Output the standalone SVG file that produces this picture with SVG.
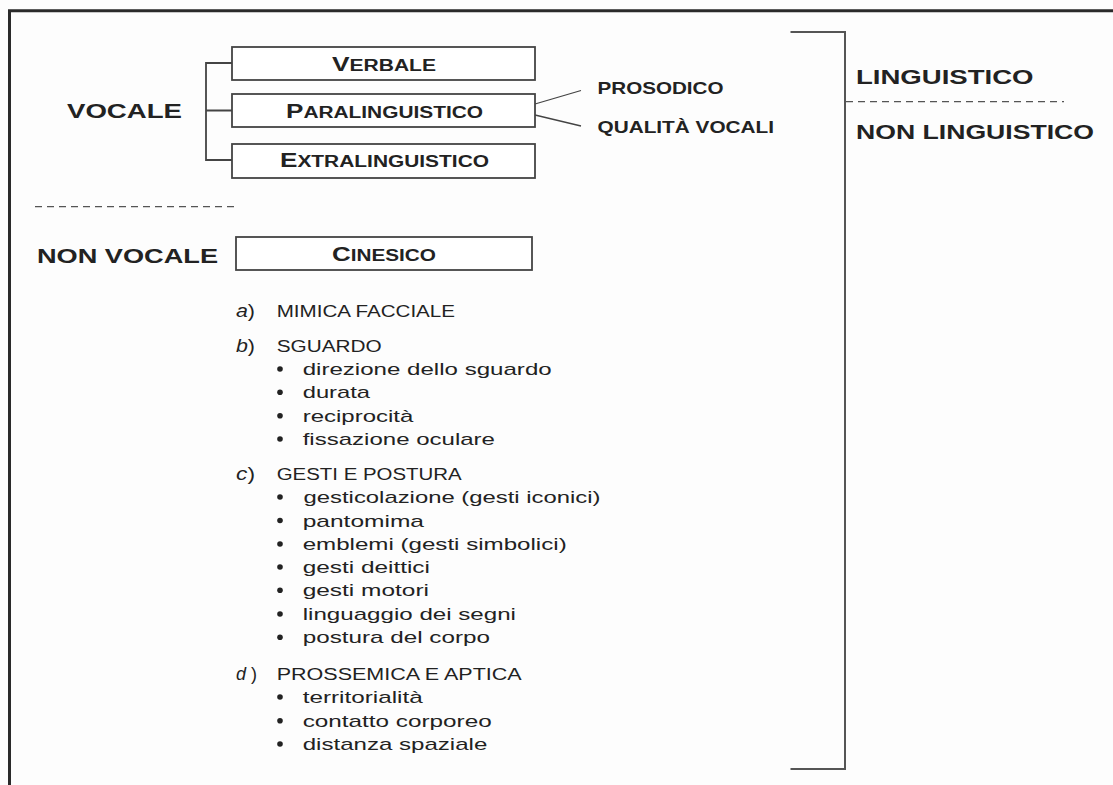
<svg xmlns="http://www.w3.org/2000/svg" width="1113" height="785" viewBox="0 0 1113 785">
<style>
text{font-family:"Liberation Sans",Arial,sans-serif;fill:#222}
.lab{font-size:21px;font-weight:bold}
.box{fill:#fff;stroke:#444;stroke-width:1.8}
.bt{font-size:16px;font-weight:bold}
.bt tspan.c{font-size:20px}
.sub{font-size:16.5px;font-weight:bold}
.li{font-size:17px}
.lt{font-size:18px}
.hd{font-size:16px}
.ln{fill:none;stroke:#444;stroke-width:1.8}
.dash{fill:none;stroke:#555;stroke-width:1.3;stroke-dasharray:7 5}
.bul{fill:#222}
</style>
<rect width="1113" height="785" fill="#fdfdfd"/>
<g id="connectors">
  <path d="M9.5 785 V10.8 H1113" fill="none" stroke="#2a2a2a" stroke-width="3"/>
  <path class="ln" d="M234 63 H206 V160 H232 M206 110.5 H232"/>
  <path fill="none" stroke="#444" stroke-width="1.3" d="M535 104 L581 90.5 M535 115 L581 126"/>
  <path fill="none" stroke="#555" stroke-width="2" d="M790.5 32 H845 V769 H790.5"/>
  <line class="dash" x1="35" y1="206.7" x2="238" y2="206.7"/>
  <line class="dash" x1="846" y1="101.7" x2="1064" y2="101.7"/>
</g>
<g id="vocale"><text class="lab" x="67" y="118" textLength="115" lengthAdjust="spacingAndGlyphs">VOCALE</text></g>
<g id="non-vocale"><text class="lab" x="37" y="262.5" textLength="181" lengthAdjust="spacingAndGlyphs">NON VOCALE</text></g>
<g id="verbale">
  <rect class="box" x="232" y="47" width="303" height="33"/>
  <text class="bt" x="332" y="71" textLength="104" lengthAdjust="spacingAndGlyphs"><tspan class="c">V</tspan>ERBALE</text>
</g>
<g id="paralinguistico">
  <rect class="box" x="232" y="94" width="303" height="33"/>
  <text class="bt" x="286" y="118" textLength="197" lengthAdjust="spacingAndGlyphs"><tspan class="c">P</tspan>ARALINGUISTICO</text>
</g>
<g id="extralinguistico">
  <rect class="box" x="232" y="144" width="303" height="34"/>
  <text class="bt" x="280" y="167" textLength="209" lengthAdjust="spacingAndGlyphs"><tspan class="c">E</tspan>XTRALINGUISTICO</text>
</g>
<g id="cinesico">
  <rect class="box" x="236" y="237" width="296" height="33"/>
  <text class="bt" x="332" y="261" textLength="104" lengthAdjust="spacingAndGlyphs"><tspan class="c">C</tspan>INESICO</text>
</g>
<g id="prosodico"><text class="sub" x="597.5" y="94.3" textLength="126" lengthAdjust="spacingAndGlyphs">PROSODICO</text></g>
<g id="qualita-vocali"><text class="sub" x="597.5" y="133" textLength="176.5" lengthAdjust="spacingAndGlyphs">QUALITÀ VOCALI</text></g>
<g id="linguistico"><text class="lab" x="856" y="84" textLength="177.5" lengthAdjust="spacingAndGlyphs">LINGUISTICO</text></g>
<g id="non-linguistico"><text class="lab" x="856" y="139" textLength="238" lengthAdjust="spacingAndGlyphs">NON LINGUISTICO</text></g>
<g id="cinesico-list">
  <text class="lt" x="236" y="316.7" textLength="19" lengthAdjust="spacingAndGlyphs"><tspan font-style="italic">a</tspan>)</text>
  <text class="hd" x="276.7" y="316.7" textLength="178.3" lengthAdjust="spacingAndGlyphs">MIMICA FACCIALE</text>
  <text class="lt" x="236" y="351.7" textLength="19" lengthAdjust="spacingAndGlyphs"><tspan font-style="italic">b</tspan>)</text>
  <text class="hd" x="276.7" y="351.7" textLength="105" lengthAdjust="spacingAndGlyphs">SGUARDO</text>
  <circle class="bul" cx="280" cy="369" r="2.8"/>
  <text class="li" x="302.7" y="375" textLength="249" lengthAdjust="spacingAndGlyphs">direzione dello sguardo</text>
  <circle class="bul" cx="280" cy="392.3" r="2.8"/>
  <text class="li" x="302.7" y="398.3" textLength="67.3" lengthAdjust="spacingAndGlyphs">durata</text>
  <circle class="bul" cx="280" cy="415.7" r="2.8"/>
  <text class="li" x="302.7" y="421.7" textLength="110.6" lengthAdjust="spacingAndGlyphs">reciprocità</text>
  <circle class="bul" cx="280" cy="439" r="2.8"/>
  <text class="li" x="302.7" y="445" textLength="192.3" lengthAdjust="spacingAndGlyphs">fissazione oculare</text>
  <text class="lt" x="236" y="480" textLength="19" lengthAdjust="spacingAndGlyphs"><tspan font-style="italic">c</tspan>)</text>
  <text class="hd" x="276.7" y="480" textLength="185" lengthAdjust="spacingAndGlyphs">GESTI E POSTURA</text>
  <circle class="bul" cx="280" cy="497" r="2.8"/>
  <text class="li" x="303.5" y="503" textLength="297" lengthAdjust="spacingAndGlyphs">gesticolazione (gesti iconici)</text>
  <circle class="bul" cx="280" cy="520.5" r="2.8"/>
  <text class="li" x="302.7" y="526.5" textLength="121.3" lengthAdjust="spacingAndGlyphs">pantomima</text>
  <circle class="bul" cx="280" cy="544" r="2.8"/>
  <text class="li" x="302.7" y="550" textLength="264" lengthAdjust="spacingAndGlyphs">emblemi (gesti simbolici)</text>
  <circle class="bul" cx="280" cy="567" r="2.8"/>
  <text class="li" x="302.7" y="573" textLength="127.3" lengthAdjust="spacingAndGlyphs">gesti deittici</text>
  <circle class="bul" cx="280" cy="590.3" r="2.8"/>
  <text class="li" x="302.7" y="596.3" textLength="126.3" lengthAdjust="spacingAndGlyphs">gesti motori</text>
  <circle class="bul" cx="280" cy="614" r="2.8"/>
  <text class="li" x="302.7" y="620" textLength="213.3" lengthAdjust="spacingAndGlyphs">linguaggio dei segni</text>
  <circle class="bul" cx="280" cy="637.3" r="2.8"/>
  <text class="li" x="302.7" y="643.3" textLength="187.3" lengthAdjust="spacingAndGlyphs">postura del corpo</text>
  <text class="lt" x="236" y="680" textLength="21" lengthAdjust="spacingAndGlyphs"><tspan font-style="italic">d</tspan> )</text>
  <text class="hd" x="276.7" y="680" textLength="245" lengthAdjust="spacingAndGlyphs">PROSSEMICA E APTICA</text>
  <circle class="bul" cx="280" cy="697" r="2.8"/>
  <text class="li" x="302.7" y="703" textLength="120" lengthAdjust="spacingAndGlyphs">territorialità</text>
  <circle class="bul" cx="280" cy="720.7" r="2.8"/>
  <text class="li" x="302.7" y="726.7" textLength="189" lengthAdjust="spacingAndGlyphs">contatto corporeo</text>
  <circle class="bul" cx="280" cy="744" r="2.8"/>
  <text class="li" x="302.7" y="750" textLength="184.6" lengthAdjust="spacingAndGlyphs">distanza spaziale</text>
</g>
</svg>
